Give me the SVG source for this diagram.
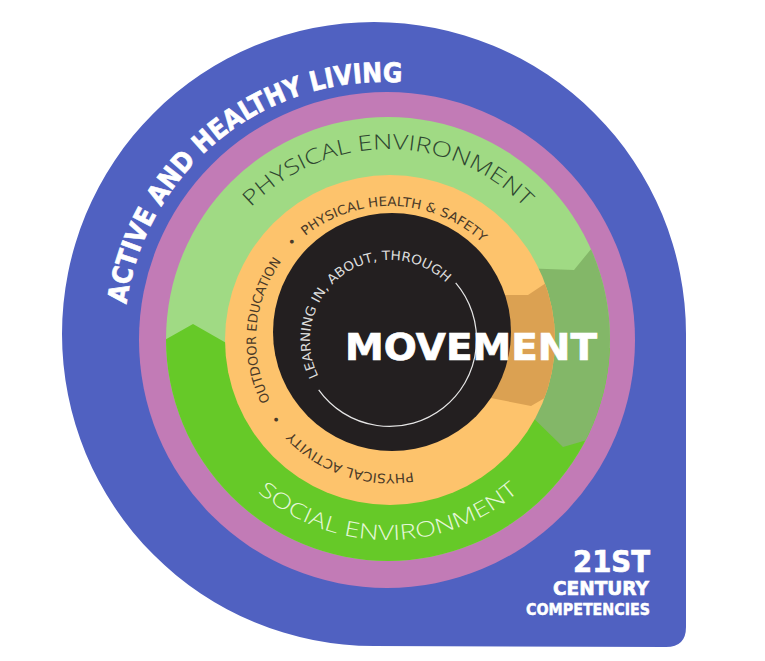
<svg xmlns="http://www.w3.org/2000/svg" width="765" height="661" viewBox="0 0 765 661">
<style>
.bold{font-family:"DejaVu Sans","Liberation Sans",sans-serif;font-weight:bold;fill:#ffffff;stroke:#ffffff;stroke-width:0.7px}
.env{font-family:"Open Sans","Lato",sans-serif;font-weight:300;font-size:21px}
.ring{font-family:"DejaVu Sans","Liberation Sans",sans-serif;font-size:13px;fill:#4a3a28}
.inner{font-family:"DejaVu Sans","Liberation Sans",sans-serif;font-size:13px;fill:#dcdcdc}
</style>
<defs>
<clipPath id="clipGreen"><circle cx="388" cy="339" r="222"/></clipPath>
<clipPath id="clipOrange"><circle cx="390" cy="340" r="165"/></clipPath>
<path id="pActive" d="M126.5,304.1 A258,258 0 0 1 470.2,97.6"/>
<path id="pPhys" d="M209.5,274 A190,190 0 0 1 566.5,274"/>
<path id="pSocial" d="M199.1,407.7 A201,201 0 0 0 576.9,407.7"/>
<path id="pRing" d="M524,340 A134,134 0 1 1 256,340 A134,134 0 1 1 524,340"/>
<path id="pInner" d="M470,340 A80,80 0 1 1 310,340 A80,80 0 1 1 470,340"/>
</defs>

<g id="outer-blue">
<path d="M62,334 A312,312 0 0 1 686,334 L686,627 Q686,647 666,647 L374,646 A312,312 0 0 1 62,334 Z" fill="#5061c1"/>
<text class="bold" font-size="27"><textPath href="#pActive" textLength="389" lengthAdjust="spacingAndGlyphs">ACTIVE AND HEALTHY LIVING</textPath></text>
<text class="bold" x="650" y="572" font-size="31" text-anchor="end" textLength="77" lengthAdjust="spacingAndGlyphs">21ST</text>
<text class="bold" x="649" y="595" font-size="19" text-anchor="end" textLength="96" lengthAdjust="spacingAndGlyphs">CENTURY</text>
<text class="bold" x="650" y="615" font-size="15.5" text-anchor="end" textLength="124" lengthAdjust="spacingAndGlyphs" style="stroke-width:0.5px">COMPETENCIES</text>
</g>

<g id="purple-ring">
<circle cx="387" cy="340" r="248" fill="#c27bb6"/>
</g>

<g id="green-ring">
<circle cx="388" cy="339" r="222" fill="#a0da84"/>
<g clip-path="url(#clipGreen)">
<polygon points="140,354 193,324 235,348 660,348 660,620 140,620" fill="#66c928"/>
<polygon points="520,268 574,270 596,243 660,243 660,440 594,438 563,447 520,405" fill="#83b768"/>
</g>
<text class="env" fill="#2e4630"><textPath href="#pPhys" startOffset="50%" text-anchor="middle" textLength="306" lengthAdjust="spacingAndGlyphs">PHYSICAL ENVIRONMENT</textPath></text>
<text class="env" fill="#e4f7d8"><textPath href="#pSocial" startOffset="50%" text-anchor="middle" textLength="284" lengthAdjust="spacingAndGlyphs">SOCIAL ENVIRONMENT</textPath></text>
</g>

<g id="orange-ring">
<circle cx="390" cy="340" r="165" fill="#fdc36c"/>
<g clip-path="url(#clipOrange)">
<polygon points="460,295 528,295 552,279 600,279 600,400 555,392 531,406 460,392" fill="#dba152"/>
</g>
<text class="ring"><textPath href="#pRing" startOffset="253.8" text-anchor="middle" textLength="133" lengthAdjust="spacingAndGlyphs">PHYSICAL ACTIVITY</textPath></text>
<text class="ring"><textPath href="#pRing" startOffset="339.2" text-anchor="middle">•</textPath></text>
<text class="ring"><textPath href="#pRing" startOffset="431.5" text-anchor="middle" textLength="147" lengthAdjust="spacingAndGlyphs">OUTDOOR EDUCATION</textPath></text>
<text class="ring"><textPath href="#pRing" startOffset="526.3" text-anchor="middle">•</textPath></text>
<text class="ring"><textPath href="#pRing" startOffset="636.2" text-anchor="middle" textLength="193" lengthAdjust="spacingAndGlyphs">PHYSICAL HEALTH &amp; SAFETY</textPath></text>
</g>

<g id="core">
<circle cx="392" cy="332" r="119" fill="#231f20"/>
<path d="M455.7,282.9 A87,87 0 1 1 318.7,389.9" fill="none" stroke="#e6e6e6" stroke-width="1.2"/>
<text class="inner"><textPath href="#pInner" startOffset="326" text-anchor="middle" textLength="225" lengthAdjust="spacingAndGlyphs">LEARNING IN, ABOUT, THROUGH</textPath></text>
<text class="bold" x="345" y="360" font-size="38" textLength="252" lengthAdjust="spacingAndGlyphs">MOVEMENT</text>
</g>
</svg>
